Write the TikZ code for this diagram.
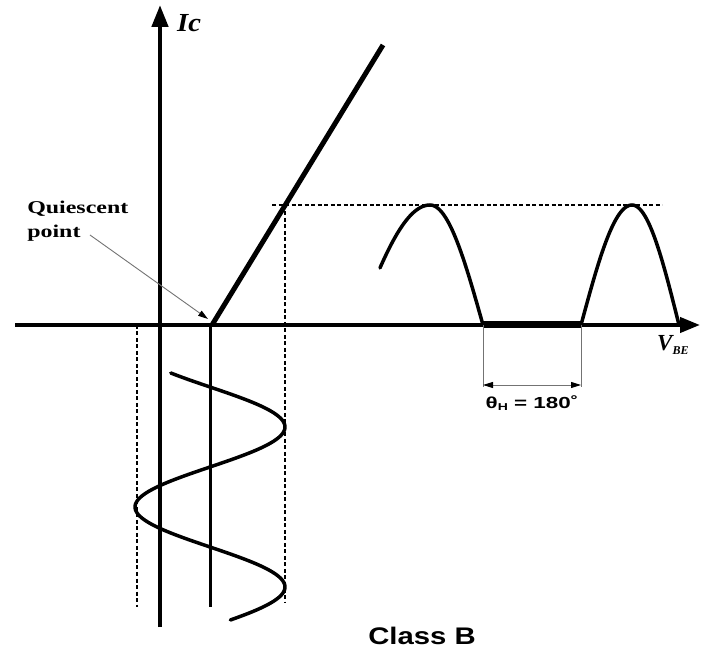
\documentclass[tikz,border=0pt]{standalone}
\usepackage{fontspec}
\setmainfont{Liberation Serif}
\newfontfamily\arialfont{Liberation Sans}
\usetikzlibrary{arrows.meta}
\begin{document}
\begin{tikzpicture}[x=1pt,y=1pt,
  axis/.style={line width=4.5pt},
  thinv/.style={line width=3pt},
  dashln/.style={line width=2.2pt, dash pattern=on 4pt off 2.5pt},
  wave/.style={line width=3.5pt, line cap=round, line join=round},
  dimln/.style={line width=0.9pt, draw=black!55},
  lbl/.style={inner sep=0pt}]
\useasboundingbox (0,0) rectangle (703,650);
% coordinates
\coordinate (vbot) at (160,23);
\coordinate (vtop) at (160,645);
\coordinate (hleft) at (15,325);
\coordinate (hright) at (700,325);
\coordinate (Q) at (212,325);
\coordinate (Ltop) at (383,605);
\coordinate (dhL) at (272,445);
\coordinate (dhR) at (662,445);
\coordinate (dvT) at (285,445);
\coordinate (dvB) at (285,47);
\coordinate (dlT) at (137,325);
\coordinate (dlB) at (137,43);
\coordinate (tvT) at (210,325);
\coordinate (tvB) at (210,43);
\coordinate (fA) at (483,325);
\coordinate (fB) at (581,325);
\coordinate (mA) at (483,263);
\coordinate (mB) at (581,263);
\coordinate (aA) at (483,265);
\coordinate (aB) at (581,265);
\coordinate (qs) at (90,415);
\coordinate (qe) at (208,331);
% axes
\draw[axis,-{Triangle[length=22pt,width=16pt]}] (vbot) -- (vtop);
\draw[axis,line width=4pt,-{Triangle[length=20pt,width=15pt]}] (hleft) -- (hright);
% transfer line
\draw[line width=5pt] (Q) -- (Ltop);
% dashed guides
\draw[dashln] (dhL) -- (dhR);
\draw[dashln] (dvT) -- (dvB);
\draw[dashln] (dlT) -- (dlB);
% quiescent vertical
\draw[thinv] (tvT) -- (tvB);
% input sine
\draw[wave] plot[domain=373:620, samples=120, smooth] ({210+75*cos(2.25*(\x-427))}, {650-\x});
% output humps
\draw[wave] plot[domain=28.4:90, samples=40, smooth] ({430-50*(90-\x)/61.6},{325+120*sin(\x)})
  -- plot[domain=90:180, samples=50, smooth] ({430+53*(\x-90)/90},{325+120*sin(\x)});
\draw[line width=7pt] (fA) -- (fB);
\draw[wave] plot[domain=0:90, samples=50, smooth] ({581+51*\x/90},{325+120*sin(\x)})
  -- plot[domain=90:180, samples=50, smooth] ({632+47*(\x-90)/90},{325+120*sin(\x)});
% dimension
\draw[dimln] (fA) -- (mA);
\draw[dimln] (fB) -- (mB);
\draw[dimln,{Triangle[length=10pt,width=6pt,fill=black,color=black]}-{Triangle[length=10pt,width=6pt,fill=black,color=black]}] (aA) -- (aB);
% labels
\node[lbl,anchor=west,xscale=1.1,font=\fontsize{26}{26}\selectfont\bfseries\itshape] (ic) at (177,627) {Ic};
\node[lbl,anchor=west,font=\fontsize{23}{23}\selectfont\bfseries\itshape] (vbe) at (657,305) {V\raisebox{-4pt}{\fontsize{12}{12}\selectfont BE}};
\node[lbl,anchor=north west,align=left,xscale=1.33,font=\fontsize{18}{24}\selectfont\bfseries] (qt) at (27,449) {Quiescent\\point};
\node[lbl,xscale=1.4,font=\arialfont\fontsize{16}{16}\selectfont\bfseries] (th) at (532,247) {θ\raisebox{-1.5pt}{\fontsize{10}{10}\selectfont H} = 180˚};
\node[lbl,xscale=1.22,font=\arialfont\fontsize{24}{24}\selectfont\bfseries] (cb) at (422,14) {Class B};
% quiescent arrow
\draw[line width=0.9pt, draw=black!55, -{Triangle[length=10pt,width=6pt,fill=black,color=black]}] (qs) -- (qe);
\end{tikzpicture}
\end{document}
